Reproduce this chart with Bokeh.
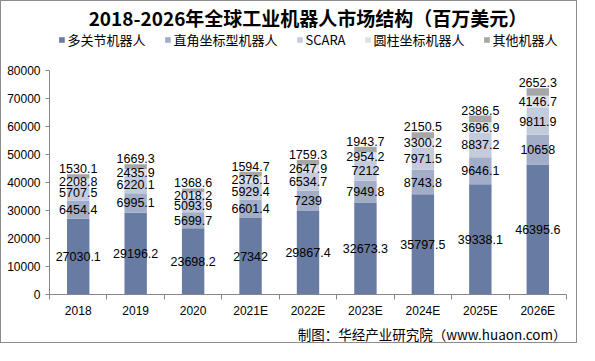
from bokeh.plotting import figure
from bokeh.models import (ColumnDataSource, FixedTicker, Legend, LegendItem, Title,
                          Range1d, BasicTickFormatter)
from bokeh.core.properties import value
from bokeh.embed import file_html
from bokeh.resources import INLINE

categories = ["2018", "2019", "2020", "2021E", "2022E", "2023E", "2024E", "2025E", "2026E"]
articulated = [27030.1, 29196.2, 23698.2, 27342, 29867.4, 32673.3, 35797.5, 39338.1, 46395.6]
cartesian = [6454.4, 6995.1, 5699.7, 6601.4, 7239, 7949.8, 8743.8, 9646.1, 10658]
scara = [5707.5, 6220.1, 5093.9, 5929.4, 6534.7, 7212, 7971.5, 8837.2, 9811.9]
cylindrical = [2208.8, 2435.9, 2018.2, 2376.1, 2647.9, 2954.2, 3300.2, 3696.9, 4146.7]
others = [1530.1, 1669.3, 1368.6, 1594.7, 1759.3, 1943.7, 2150.5, 2386.5, 2652.3]
series_names = ["多关节机器人", "直角坐标型机器人", "SCARA", "圆柱坐标机器人", "其他机器人"]
y_ticks = [0, 10000, 20000, 30000, 40000, 50000, 60000, 70000, 80000]

title_text = "2018-2026年全球工业机器人市场结构（百万美元）"
credit_text = "制图：华经产业研究院（www.huaon.com）"

colors = ["#687BA3", "#A2ADC7", "#C3CBDD", "#DCE0EA", "#A6A6A6"]
series = [articulated, cartesian, scara, cylindrical, others]
keys = ["s0", "s1", "s2", "s3", "s4"]

xs = list(range(len(categories)))
data = {"x": xs}
for k, s in zip(keys, series):
    data[k] = s
src = ColumnDataSource(data)


def fmt(v):
    s = "%.1f" % v
    return s.rstrip("0").rstrip(".")


# label positions: centre of each segment (top series above bar)
lx, ly, lt, top_x, top_y, top_t = [], [], [], [], [], []
for i in xs:
    base = 0.0
    for j, s in enumerate(series):
        v = s[i]
        if j < len(series) - 1:
            lx.append(i)
            ly.append(base + v / 2.0)
            lt.append(fmt(v))
        else:
            top_x.append(i)
            top_y.append(base + v)
            top_t.append(fmt(v))
        base += v

p = figure(width=577, height=343, output_backend="svg", toolbar_location=None,
           x_range=Range1d(-0.5, len(categories) - 0.5), y_range=Range1d(0, 94300),
           min_border_left=48, min_border_right=12, min_border_bottom=44, min_border_top=0)
p.styles = {"border": "1px solid #8c8c8c"}
p.outline_line_color = None
p.xgrid.visible = False
p.ygrid.visible = False
p.background_fill_color = "white"

renderers = p.vbar_stack(keys, x="x", width=0.39, color=colors, line_color=None, source=src)

p.text(x=lx, y=ly, text=lt, text_align="center", text_baseline="middle",
       text_font=value("Liberation Sans"), text_font_size="12.5px", text_color="#000000")
p.text(x=top_x, y=top_y, text=top_t, text_align="center", text_baseline="bottom",
       y_offset=-1, text_font=value("Liberation Sans"), text_font_size="12.5px",
       text_color="#000000")

# axes
p.xaxis.ticker = FixedTicker(ticks=xs, minor_ticks=[i - 0.5 for i in xs] + [len(xs) - 0.5])
p.xaxis.major_label_overrides = {i: c for i, c in enumerate(categories)}
p.xaxis.major_tick_in = 0
p.xaxis.major_tick_out = 0
p.xaxis.minor_tick_in = 0
p.xaxis.minor_tick_out = 5
p.xaxis.minor_tick_line_color = "#868686"
p.xaxis.axis_line_color = "#868686"
p.xaxis.major_label_text_font = "Liberation Sans"
p.xaxis.major_label_text_font_size = "12px"
p.xaxis.major_label_text_color = "#000000"
p.xaxis.major_label_standoff = 4

p.yaxis.ticker = FixedTicker(ticks=y_ticks)
p.yaxis.bounds = (0, 80000)
p.yaxis.formatter = BasicTickFormatter(use_scientific=False)
p.yaxis.major_tick_in = 0
p.yaxis.major_tick_out = 4
p.yaxis.minor_tick_line_color = None
p.yaxis.major_tick_line_color = "#868686"
p.yaxis.axis_line_color = "#868686"
p.yaxis.major_label_text_font = "Liberation Sans"
p.yaxis.major_label_text_font_size = "12px"
p.yaxis.major_label_text_color = "#000000"
p.yaxis.major_label_standoff = 5

legend = Legend(items=[LegendItem(label=n, renderers=[r]) for n, r in zip(series_names, renderers)],
                orientation="horizontal", location="top_center",
                glyph_width=7, glyph_height=7, label_standoff=3, spacing=18,
                label_text_font="Noto Sans CJK SC", label_text_font_size="13px",
                label_text_color="#000000", border_line_color=None,
                background_fill_alpha=0, padding=0, margin=0)
p.add_layout(legend)

p.title.text = title_text
p.title.align = "center"
p.title.text_font = "Noto Sans CJK SC"
p.title.text_font_size = "19px"
p.title.text_font_style = "bold"
p.title.text_color = "#000000"
p.title.text_line_height = 0.8
p.title.standoff = 0

credit = Title(text=credit_text, align="right", text_font="Noto Sans CJK SC",
               text_font_size="13.5px", text_font_style="normal", text_color="#000000",
               text_line_height=0.8, standoff=2)
p.add_layout(credit, "below")

open("out.html", "w").write(file_html(p, INLINE))
